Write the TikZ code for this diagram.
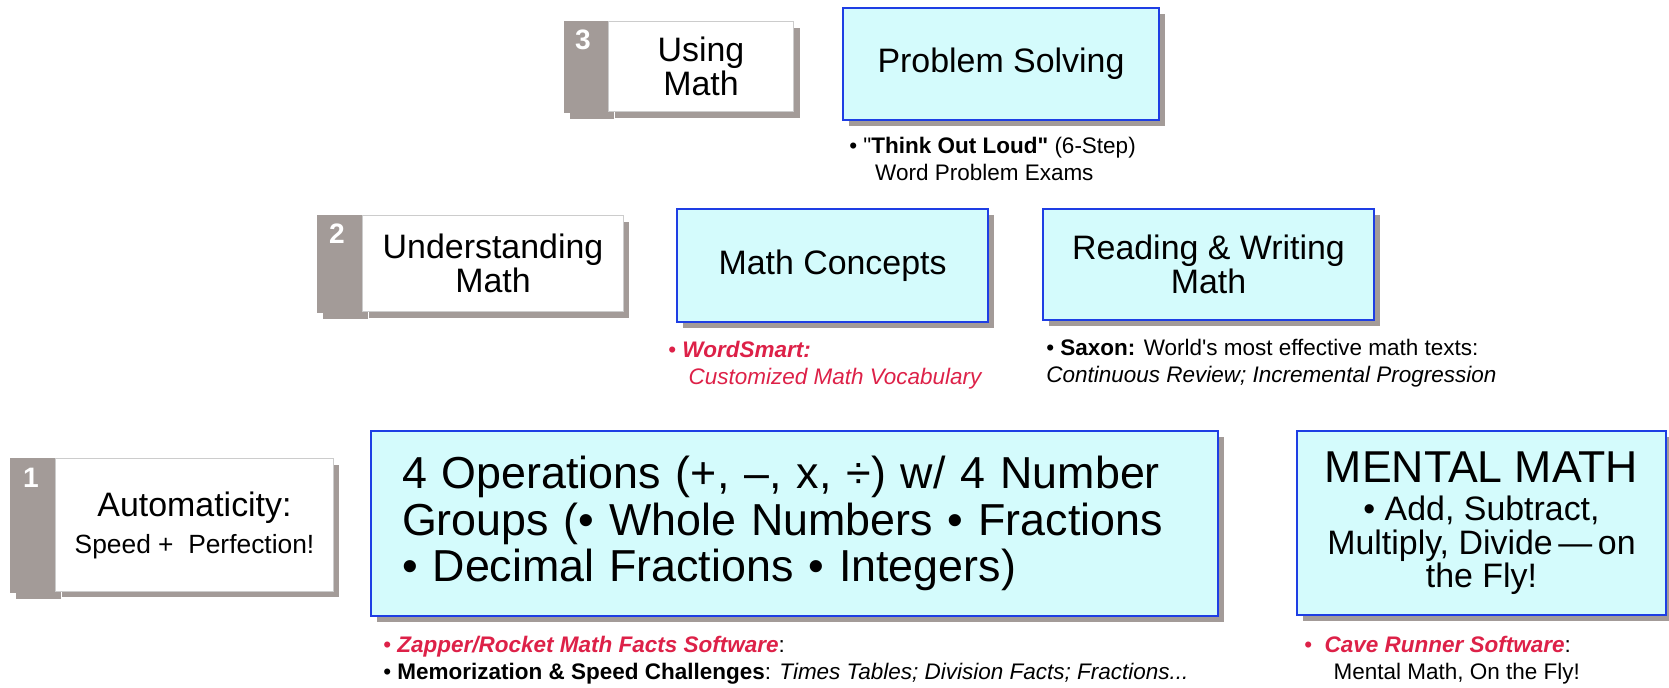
\documentclass[tikz,border=0pt]{standalone}
\usepackage{fontspec}
\setmainfont{Liberation Sans}
\usetikzlibrary{shadows}
\definecolor{boxcyan}{RGB}{212,251,252}
\definecolor{boxblue}{RGB}{30,62,228}
\definecolor{tabgray}{RGB}{163,155,152}
\definecolor{softred}{RGB}{221,33,72}
\newcommand{\titlefont}{\fontsize{19.3}{19}\selectfont}
\newcommand{\bigfont}{\fontsize{25.5}{26.5}\selectfont}
\tikzset{
  boxshadow/.style={drop shadow={shadow xshift=0.12cm, shadow yshift=-0.12cm, fill=tabgray, opacity=1}},
  topic/.style={draw=boxblue, line width=1.2pt, fill=boxcyan, boxshadow, anchor=north west, align=center, inner sep=0pt, font=\titlefont},
  level/.style={draw=black!20, line width=0.6pt, fill=white, boxshadow, anchor=north west, align=center, inner sep=0pt, font=\titlefont},
  tab/.style={fill=tabgray, boxshadow, anchor=north west, inner sep=0pt},
  tabnum/.style={text=white, inner sep=0pt, font=\fontsize{16}{16}\selectfont\bfseries},
  note/.style={anchor=north west, align=left, inner sep=0pt, font=\fontsize{12.8}{15.3}\selectfont},
}
\begin{document}
\begin{tikzpicture}[x=0.02cm, y=-0.02cm]
    \useasboundingbox (0,0) rectangle (1669,688);
    % level 3
    \node[tab, minimum width=0.88cm, minimum height=1.84cm] (tabthree) at (564,21) {};
    \node[tabnum] (numthree) at ([shift={(19,19)}]tabthree.north west) {3};
    \node[level, minimum width=3.70cm, minimum height=1.80cm] (lvlthree) at (608,21) {Using\\Math};
    \node[topic, minimum width=6.32cm, minimum height=2.24cm] (probsolv) at (842,7) {Problem Solving};
    \node[note] (thinkloud) at (849,137) {• \textquotedbl\textbf{Think Out Loud\textquotedbl} (6-Step)\\\hspace*{1.15em}Word Problem Exams};
    % level 2
    \node[tab, minimum width=0.90cm, minimum height=1.96cm] (tabtwo) at (317,215) {};
    \node[tabnum] (numtwo) at ([shift={(20,19)}]tabtwo.north west) {2};
    \node[level, minimum width=5.22cm, minimum height=1.92cm] (lvltwo) at (362,215) {Understanding\\Math};
    \node[topic, minimum width=6.22cm, minimum height=2.26cm] (mathconc) at (676,208) {Math Concepts};
    \node[note, text=softred] (wordsmart) at (668,341) {• \textbf{\textit{WordSmart:}}\\\hspace*{0.9em}\textit{Customized Math Vocabulary}};
    \node[topic, minimum width=6.62cm, minimum height=2.22cm] (readwrite) at (1042,208) {Reading \& Writing\\Math};
    \node[note] (saxon) at (1046,339) {• \textbf{Saxon:} World\textquotesingle s most effective math texts:\\\textit{Continuous Review; Incremental Progression}};
    % level 1
    \node[tab, minimum width=0.90cm, minimum height=2.70cm] (tabone) at (10,458) {};
    \node[tabnum] (numone) at ([shift={(21,20)}]tabone.north west) {1};
    \node[level, minimum width=5.56cm, minimum height=2.66cm] (lvlone) at (55,458) {Automaticity:\\[2pt]{\fontsize{15}{15}\selectfont Speed + \ Perfection!}};
    \node[topic, minimum width=16.94cm, minimum height=3.70cm, font=\bigfont, align=left, text width=15.7cm] (fourops) at (370,430) {4 Operations (+, –, x, ÷) w/ 4 Number\\Groups (• Whole Numbers • Fractions\\• Decimal Fractions • Integers)};
    \node[note] (zapper) at (383,636) {\textcolor{softred}{• \textbf{\textit{Zapper/Rocket Math Facts Software}}}:\\• \textbf{Memorization \& Speed Challenges}: \textit{Times Tables; Division Facts; Fractions...}};
    \node[topic, minimum width=7.38cm, minimum height=3.68cm] (mentalmath) at (1296,430) {{\fontsize{25.4}{27}\selectfont MENTAL MATH}\\[3pt]• Add, Subtract,\\Multiply, Divide\,—\,on\\the Fly!};
    \node[note] (caverunner) at (1304,636) {\textcolor{softred}{•\ \ \textbf{\textit{Cave Runner Software}}}:\\\hspace*{1.3em}Mental Math, On the Fly!};
\end{tikzpicture}
\end{document}
